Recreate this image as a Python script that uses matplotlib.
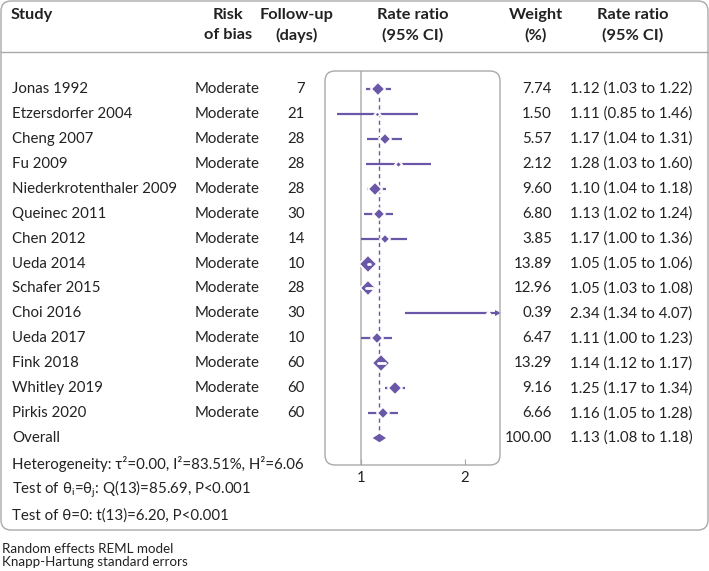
import matplotlib
matplotlib.use("Agg")
import matplotlib.pyplot as plt
from matplotlib.patches import FancyBboxPatch, Polygon
from matplotlib.transforms import Affine2D, blended_transform_factory
from matplotlib.ticker import FixedLocator, NullLocator, FixedFormatter

# Studies in the meta-analysis.
studies = ["Jonas 1992", "Etzersdorfer 2004", "Cheng 2007", "Fu 2009",
           "Niederkrotenthaler 2009", "Queinec 2011", "Chen 2012", "Ueda 2014",
           "Schafer 2015", "Choi 2016", "Ueda 2017", "Fink 2018",
           "Whitley 2019", "Pirkis 2020"]
risk = ["Moderate"] * 14
followup = [7, 21, 28, 28, 28, 30, 14, 10, 28, 30, 10, 60, 60, 60]
rr = [1.12, 1.11, 1.17, 1.28, 1.10, 1.13, 1.17, 1.05, 1.05, 2.34, 1.11, 1.14, 1.25, 1.16]
lo = [1.03, 0.85, 1.04, 1.03, 1.04, 1.02, 1.00, 1.05, 1.03, 1.34, 1.00, 1.12, 1.17, 1.05]
hi = [1.22, 1.46, 1.31, 1.60, 1.18, 1.24, 1.36, 1.06, 1.08, 4.07, 1.23, 1.17, 1.34, 1.28]
weight = [7.74, 1.50, 5.57, 2.12, 9.60, 6.80, 3.85, 13.89, 12.96, 0.39, 6.47, 13.29, 9.16, 6.66]

overall_rr, overall_lo, overall_hi = 1.13, 1.08, 1.18
overall_weight = 100.00

stats_lines = [
    "Heterogeneity: τ²=0.00, I²=83.51%, H²=6.06",
    r"Test of θ$_\mathregular{i}$=θ$_\mathregular{j}$: Q(13)=85.69, P<0.001",
    "Test of θ=0: t(13)=6.20, P<0.001",
]
notes = ["Random effects REML model", "Knapp-Hartung standard errors"]

# Style.
plt.rcParams["font.family"] = ["Lato", "DejaVu Sans"]
purple = "#6b57a8"
grey = "#a9a9a9"
txt = "#222222"
fs = 10.8

W, H = 709, 571
fig = plt.figure(figsize=(W / 100, H / 100), dpi=100)

# Pixel transform (y downward).
px = Affine2D().scale(1, -1).translate(0, H).scale(1 / W, 1 / H) + fig.transFigure

# Forest plot axes.
x0, x1, y0, y1 = 325, 500, 71, 465
ax = fig.add_axes([x0 / W, 1 - y1 / H, (x1 - x0) / W, (y1 - y0) / H])
ax.set_xscale("log")
xmin, xmax = 0.785, 2.53
ax.set_xlim(xmin, xmax)
row_h = 24.93
ax.set_ylim((y1 - 89) / row_h, (y0 - 89) / row_h)
for s in ax.spines.values():
    s.set_visible(False)
ax.set_yticks([])
ax.xaxis.set_major_locator(FixedLocator([1, 2]))
ax.xaxis.set_major_formatter(FixedFormatter(["1", "2"]))
ax.xaxis.set_minor_locator(NullLocator())
ax.tick_params(axis="x", direction="in", length=4, color=grey, labelsize=10.8,
               labelcolor=txt, pad=4)
ax.patch.set_visible(False)

# Rounded box of the plot.
fig.patches.append(FancyBboxPatch((x0, y0), x1 - x0, y1 - y0,
                                  boxstyle="round,pad=0,rounding_size=10",
                                  transform=px, fill=False, ec=grey, lw=1.0))
# Outer box and header rule.
fig.patches.append(FancyBboxPatch((1, 1), W - 2, 529,
                                  boxstyle="round,pad=0,rounding_size=10",
                                  transform=px, fill=False, ec=grey, lw=1.0))
fig.lines.append(plt.Line2D([1, W - 1], [52, 52], transform=px, color=grey, lw=1.0))

# Reference lines.
ax.axvline(1, color="#b8b8b8", lw=1.2, zorder=1)
ax.plot([overall_rr, overall_rr], [-0.3, 14], color=purple, lw=1.0,
        ls=(0, (3, 2.5)), zorder=2)

# Studies.
for i in range(len(studies)):
    ms = 2.4 * weight[i] ** 0.5
    right = min(hi[i], xmax * 0.985)
    ax.plot([lo[i], right], [i, i], color=purple, lw=1.6, zorder=3,
            solid_capstyle="butt")
    ax.plot(rr[i], i, marker="D", ms=ms, color=purple, mec="white",
            mew=1.3, zorder=4)
    # CI entirely inside the marker -> white line
    half = ms * 1.414 / 2 * 100 / 72
    cx = ax.transData.transform((rr[i], i))[0]
    lx = ax.transData.transform((lo[i], i))[0]
    hx = ax.transData.transform((hi[i], i))[0]
    if cx - lx < half and hx - cx < half:
        ax.plot([lo[i], hi[i]], [i, i], color="white", lw=2.0, zorder=5,
                solid_capstyle="round")
    if hi[i] > xmax:
        ax.plot(xmax * 0.985, i, marker=">", ms=5, color=purple, mew=0,
                zorder=5, clip_on=False)

# Overall diamond.
n = len(studies)
ax.add_patch(Polygon([(overall_lo, n), (overall_rr, n - 0.17), (overall_hi, n),
                      (overall_rr, n + 0.17)], closed=True, fc=purple, ec="none",
                     zorder=4))

# Header.
hdr = dict(fontsize=11.8, fontweight="bold", color=txt, transform=px,
           va="center", ha="center")
fig.text(11, 15, "Study", **{**hdr, "ha": "left"})
fig.text(228, 15, "Risk", **hdr)
fig.text(228, 35, "of bias", **hdr)
fig.text(297, 15, "Follow-up", **hdr)
fig.text(297, 35, "(days)", **hdr)
fig.text(413, 15, "Rate ratio", **hdr)
fig.text(413, 35, "(95% CI)", **hdr)
fig.text(536, 15, "Weight", **hdr)
fig.text(536, 35, "(%)", **hdr)
fig.text(633, 15, "Rate ratio", **hdr)
fig.text(633, 35, "(95% CI)", **hdr)

# Rows.
rowt = blended_transform_factory(px, ax.transData)
body = dict(fontsize=fs, color=txt, transform=rowt, va="center")
for i in range(n):
    fig.text(12, i, studies[i], ha="left", **body)
    fig.text(195, i, risk[i], ha="left", **body)
    fig.text(305, i, str(followup[i]), ha="right", **body)
    fig.text(552, i, f"{weight[i]:.2f}", ha="right", **body)
    fig.text(570, i, f"{rr[i]:.2f} ({lo[i]:.2f} to {hi[i]:.2f})", ha="left", **body)
fig.text(12, n, "Overall", ha="left", **body)
fig.text(552, n, f"{overall_weight:.2f}", ha="right", **body)
fig.text(570, n, f"{overall_rr:.2f} ({overall_lo:.2f} to {overall_hi:.2f})",
         ha="left", **body)
for k, line in enumerate(stats_lines):
    fig.text(12, n + 1.05 + k * 1.02, line, ha="left", **body)

# Footnotes.
fig.text(2, 549, notes[0], ha="left", va="center", fontsize=9.6, color=txt, transform=px)
fig.text(2, 562, notes[1], ha="left", va="center", fontsize=9.6, color=txt, transform=px)

fig.savefig("out.png", dpi=100)
